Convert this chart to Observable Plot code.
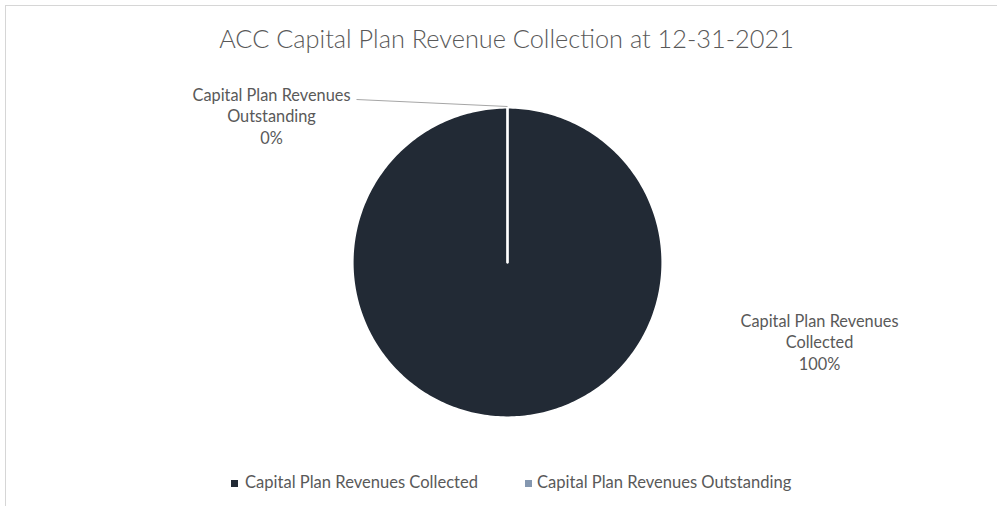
<!DOCTYPE html>
<html><head><meta charset="utf-8">
<script src="https://cdn.jsdelivr.net/npm/d3@7"></script>
<script src="https://cdn.jsdelivr.net/npm/@observablehq/plot@0.6"></script>
<style>
html,body{margin:0;padding:0;background:#fff;}
#wrap{position:relative;width:997px;height:506px;overflow:hidden;font-family:Lato,"Open Sans",sans-serif;color:#595959;}
#frame{position:absolute;left:5px;top:5px;width:1100px;height:600px;border:1px solid #d6d6d6;}
#title{position:absolute;white-space:nowrap;line-height:1;font-weight:300;transform:translateX(-50%);}
#chart{position:absolute;left:0;top:76px;}
.lg{position:absolute;white-space:nowrap;line-height:1;}
.sw{position:absolute;width:7px;height:7px;}
</style></head><body>
<div id="wrap"><div id="frame"></div><div id="title"></div><div id="chart"></div><div id="legend"></div></div>
<script>
const title = "ACC Capital Plan Revenue Collection at 12-31-2021";
const categories = ["Capital Plan Revenues Collected", "Capital Plan Revenues Outstanding"];
const labelLines = [["Capital Plan Revenues", "Collected"], ["Capital Plan Revenues", "Outstanding"]];
const values = [100, 0];
const percentLabels = ["100%", "0%"];
const colors = ["#222a35", "#8497b0"];

const FONT = "Lato";
const ctx = document.createElement("canvas").getContext("2d");
function fit(text, target, weight) {
  ctx.font = `${weight} 100px ${FONT}`;
  return target / ctx.measureText(text).width * 100;
}
function baselineOffset(size, weight) {
  ctx.font = `${weight} ${size}px ${FONT}`;
  const m = ctx.measureText("Hg");
  const a = m.fontBoundingBoxAscent, d = m.fontBoundingBoxDescent;
  return (size - (a + d)) / 2 + a;
}

// Title
const tEl = document.getElementById("title");
const tSize = fit(title, 575, 300);
tEl.textContent = title;
tEl.style.fontSize = tSize + "px";
tEl.style.left = "506.5px";
tEl.style.top = (49 - baselineOffset(tSize, 300)) + "px";

// Pie geometry (SVG coordinates)
const H = 384, cx = 507, cy = 186, r = 155;
const data = categories.map((name, i) => ({name, value: values[i], lines: labelLines[i], pct: percentLabels[i]}));
const arcs = d3.pie().sort(null).value(d => d.value)(data);
const pts = [];
arcs.forEach(a => {
  const name = a.data.name;
  pts.push({name, x: cx, y: cy});
  const n = Math.max(2, Math.ceil((a.endAngle - a.startAngle) / (2 * Math.PI) * 360));
  for (let k = 0; k <= n; k++) {
    const t = a.startAngle + (a.endAngle - a.startAngle) * k / n;
    pts.push({name, x: cx + r * Math.sin(t), y: cy - r * Math.cos(t)});
  }
  pts.push({name, x: cx, y: cy});
});

const lblSize = fit(labelLines[0][0], 158, 400);
const labelPos = {
  [categories[0]]: {x: 819, y: 369 - 76},
  [categories[1]]: {x: 271, y: 143 - 76}
};
const labels = arcs.map(a => ({
  text: [...a.data.lines, a.data.pct].join("\n"),
  x: labelPos[a.data.name].x, y: labelPos[a.data.name].y
}));
// leader line for the outstanding slice
const out = arcs[1];
const mid = (out.startAngle + out.endAngle) / 2;
const leaders = [{x1: 356, y1: 99 - 76, x2: cx + r * Math.sin(mid), y2: cy - r * Math.cos(mid) - 1}];

const chart = Plot.plot({
  width: 997, height: H, margin: 0,
  style: {background: "transparent", overflow: "visible"},
  x: {domain: [0, 997], range: [0, 997], axis: null},
  y: {domain: [0, H], range: [0, H], axis: null},
  color: {domain: categories, range: colors},
  marks: [
    Plot.line(pts, {x: "x", y: "y", z: "name", fill: "name", stroke: "white", strokeWidth: 2.2, curve: "linear"}),
    Plot.link(leaders, {x1: "x1", y1: "y1", x2: "x2", y2: "y2", stroke: "#a6a6a6", strokeWidth: 1}),
    Plot.text(labels, {x: "x", y: "y", text: "text", textAnchor: "middle", lineAnchor: "bottom",
      fontSize: lblSize, lineHeight: 21.5 / lblSize, fill: "#595959", fontFamily: FONT})
  ]
});
document.getElementById("chart").appendChild(chart);

// Legend using the plot's colour scale
const color = chart.scale("color");
const lg = document.getElementById("legend");
const lgSize = fit(categories[0], 233, 400);
const lgBase = 488;
const swX = [231, 525], txX = [245, 537];
categories.forEach((c, i) => {
  const sw = document.createElement("div");
  sw.className = "sw";
  sw.style.background = color.apply(c);
  sw.style.left = swX[i] + "px";
  sw.style.top = "480px";
  lg.appendChild(sw);
  const t = document.createElement("div");
  t.className = "lg";
  t.textContent = c;
  t.style.fontSize = lgSize + "px";
  t.style.left = txX[i] + "px";
  t.style.top = (lgBase - baselineOffset(lgSize, 400)) + "px";
  lg.appendChild(t);
});
</script>
</body></html>
